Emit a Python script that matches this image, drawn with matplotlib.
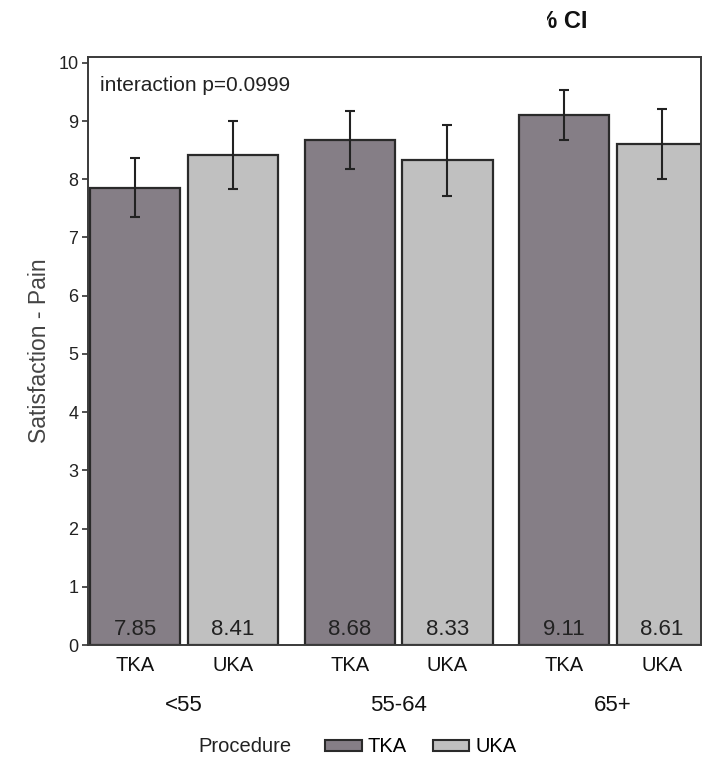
import numpy as np
import matplotlib
matplotlib.use("Agg")
import matplotlib.pyplot as plt
from matplotlib.patches import Patch
from matplotlib.transforms import Bbox, TransformedBbox

plt.rcParams['font.family'] = ['Liberation Sans', 'DejaVu Sans']

# data
groups = ["<55", "55-64", "65+"]
procedures = ["TKA", "UKA"]
tka_mean = [7.85, 8.68, 9.11]
uka_mean = [8.41, 8.33, 8.61]
tka_lo = [7.35, 8.18, 8.67]
tka_hi = [8.36, 9.17, 9.53]
uka_lo = [7.83, 7.71, 8.00]
uka_hi = [9.00, 8.93, 9.21]

tka_col = "#857e86"
uka_col = "#c0c0c0"
edge = "#2a2a2a"

W, H = 704, 759
fig = plt.figure(figsize=(W / 100, H / 100), dpi=100)
ax = fig.add_axes([88 / W, 1 - 645 / H, (701 - 88) / W, (645 - 57) / H])

x = np.arange(len(groups))
off = 0.228
bw = 0.42


def draw(pos, mean, lo, hi, col):
    mean = np.array(mean)
    yerr = [mean - np.array(lo), np.array(hi) - mean]
    ax.bar(pos, mean, width=bw, color=col, edgecolor=edge, linewidth=1.6, zorder=2)
    ax.errorbar(pos, mean, yerr=yerr, fmt="none", ecolor="#222222",
                elinewidth=1.5, capsize=3.5, capthick=1.5, zorder=3)
    for p, m in zip(pos, mean):
        ax.text(p, 0.27, f"{m:.2f}", ha="center", va="center",
                fontsize=16, color="#222222", zorder=4)


draw(x - off, tka_mean, tka_lo, tka_hi, tka_col)
draw(x + off, uka_mean, uka_lo, uka_hi, uka_col)

ax.set_xlim(-0.448, 2.41)
ax.set_ylim(0, 10.1)
ax.set_yticks(range(0, 11))
ax.tick_params(axis="y", length=4, width=1.2, labelsize=13, colors="#333333",
               labelcolor="#222222", pad=3)

ticks = np.concatenate([x - off, x + off])
labs = ["TKA"] * 3 + ["UKA"] * 3
ax.set_xticks(ticks)
ax.set_xticklabels(labs)
ax.tick_params(axis="x", length=0, labelsize=14.5, labelcolor="#111111", pad=8)

for g, name in zip(x, groups):
    ax.text(g, -0.085, name, transform=ax.get_xaxis_transform(), ha="center",
            va="top", fontsize=16, color="#111111")

for s in ax.spines.values():
    s.set_color("#3a3a3a")
    s.set_linewidth(1.4)

ax.set_ylabel("Satisfaction - Pain", fontsize=16.5, color="#444444", labelpad=5)
ax.text(0.02, 0.968, "interaction p=0.0999", transform=ax.transAxes,
        ha="left", va="top", fontsize=15, color="#222222")

# title is cut off in the source picture
t = fig.text(588 / W, 1 - 28 / H, "95% CI", ha="right", va="baseline",
             fontsize=17, fontweight="bold", color="#111111")
t.set_clip_box(TransformedBbox(Bbox([[547 / W, 0], [1, 1]]), fig.transFigure))

fig.text(245 / W, 1 - 747 / H, "Procedure", ha="center", va="center",
         fontsize=14.5, color="#222222")
handles = [Patch(facecolor=tka_col, edgecolor=edge, linewidth=1.5),
           Patch(facecolor=uka_col, edgecolor=edge, linewidth=1.5)]
fig.legend(handles, procedures, loc="center", ncol=2,
           bbox_to_anchor=(421 / W, 1 - 747 / H), frameon=False,
           fontsize=14.5, handlelength=1.8, handleheight=0.45,
           handletextpad=0.3, columnspacing=1.3)

fig.savefig("out.png", dpi=100)
